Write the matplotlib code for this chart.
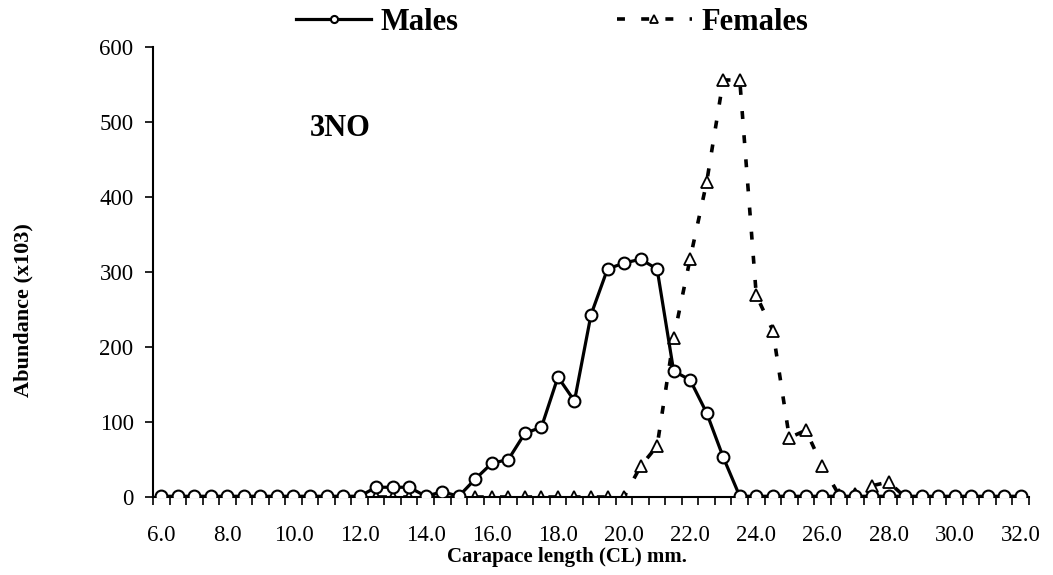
import matplotlib
matplotlib.use("Agg")
import matplotlib.pyplot as plt
import numpy as np
from matplotlib.ticker import MultipleLocator, FixedLocator

plt.rcParams['font.family'] = ['Liberation Serif', 'DejaVu Serif']

lengths = np.arange(6.0, 32.01, 0.5)

males = [1, 1, 1, 1, 1, 1, 1, 1, 1, 1, 1, 1, 1,          # 6.0 - 12.0
         13, 13, 13, 1, 7, 1, 24, 45, 50,                 # 12.5 - 16.5
         85, 93, 160, 128, 243, 304, 312, 317, 304,       # 17.0 - 21.0
         168, 156, 112, 53, 1,                            # 21.5 - 23.5
         1, 1, 1, 1, 1, 1, 1, 1, 1, 1, 1, 1, 1, 1, 1, 1, 1]  # 24.0 - 32.0

females = [0] * 28 + [                                    # 6.0 - 19.5
           0, 41, 68, 212, 318, 420, 556, 556,            # 20.0 - 23.5
           269, 222, 79, 89, 41, 3, 4, 15, 20,            # 24.0 - 28.0
           0, 0, 0, 0, 0, 0, 0, 0]                        # 28.5 - 32.0

xtick_vals = np.arange(6.0, 32.01, 2.0)
xtick_labels = [f"{v:.1f}" for v in xtick_vals]

fig = plt.figure(figsize=(10.53, 5.75), dpi=100)
ax = fig.add_axes([153/1053, 1-497/575, (1029-153)/1053, (497-47)/575])

ax.plot(lengths, males, color='black', lw=2.3, marker='o', ms=8.5,
        mfc='white', mec='black', mew=1.5, label='Males', zorder=3)
ax.plot(lengths, females, color='black', lw=2.6, ls=(0, (2.2, 4.5)),
        marker='^', ms=8.5, mfc='white', mec='black', mew=1.3,
        label='Females', zorder=2)

ax.set_xlim(5.75, 32.25)
ax.set_ylim(0, 600)
ax.xaxis.set_major_locator(FixedLocator(xtick_vals))
ax.set_xticklabels(xtick_labels)
ax.xaxis.set_minor_locator(FixedLocator(np.arange(5.75, 32.26, 0.5)))
ax.yaxis.set_major_locator(MultipleLocator(100))
ax.tick_params(axis='x', which='major', length=0, pad=20, labelsize=16.5)
ax.tick_params(axis='x', which='minor', length=6, width=1.2, direction='out')
ax.tick_params(axis='y', which='major', length=6, width=1.2, direction='out',
               labelsize=16.5, pad=8)
for s in ['top', 'right']:
    ax.spines[s].set_visible(False)
for s in ['left', 'bottom']:
    ax.spines[s].set_linewidth(1.5)

ax.set_xlabel('Carapace length (CL) mm.', fontsize=15, fontweight='bold')
ax.set_ylabel('Abundance (x103)', fontsize=16, fontweight='bold')
ax.yaxis.set_label_coords(-0.137, 0.416)
ax.xaxis.set_label_coords(0.473, -0.112)

ax.text(10.5, 492, '3NO', fontsize=22, fontweight='bold', va='center', ha='left')

leg = fig.legend(loc='center', bbox_to_anchor=(552/1053, 1-22/575), ncol=2,
                 frameon=False, prop={'size': 22, 'weight': 'bold'},
                 markerscale=0.6, handlelength=2.45, handletextpad=0.3,
                 columnspacing=5.2)

fig.savefig('out.png', dpi=100)
